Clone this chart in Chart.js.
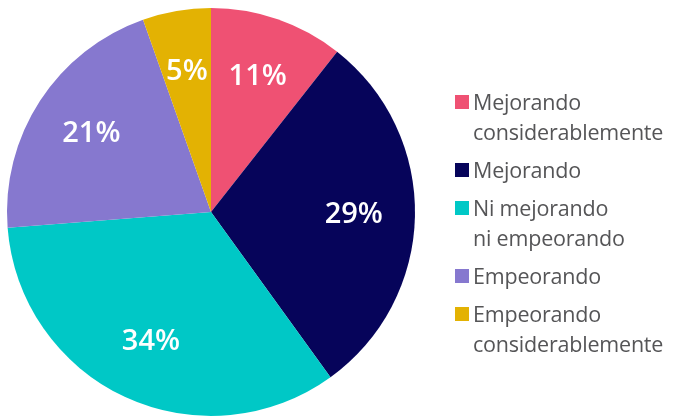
<!DOCTYPE html>
<html>
<head>
<meta charset="utf-8">
<script src="https://cdn.jsdelivr.net/npm/chart.js@4"></script>
<style>
  body { margin: 0; background: #fff; }
  #wrap { position: relative; width: 684px; height: 418px; }
  #legend { position: absolute; left: 455px; top: 87px; font-family: "Open Sans", sans-serif; font-size: 21.5px; color: #555557; line-height: 30px; letter-spacing: -0.2px; }
  .item { position: relative; padding-left: 18px; margin-bottom: 8px; }
  .box { position: absolute; left: 0; top: 8px; width: 14px; height: 14px; }
</style>
</head>
<body>
<div id="wrap">
  <canvas id="myChart" width="684" height="418"></canvas>
  <div id="legend"></div>
</div>
<script>
const labels = [
  ["Mejorando", "considerablemente"],
  ["Mejorando"],
  ["Ni mejorando", "ni empeorando"],
  ["Empeorando"],
  ["Empeorando", "considerablemente"],
];
// slice sizes; printed labels are the rounded shares
const values = [10.6, 29.4, 33.7, 20.8, 5.4];
const percentLabels = ["11%", "29%", "34%", "21%", "5%"];
const colors = ["#ef5173", "#06045a", "#00c8c6", "#8678cf", "#e3b203"];

// legend
const legendEl = document.getElementById("legend");
labels.forEach((lines, i) => {
  const item = document.createElement("div");
  item.className = "item";
  item.innerHTML =
    `<span class="box" style="background:${colors[i]}"></span>` + lines.join("<br>");
  legendEl.appendChild(item);
});

// percent labels inside slices
const sliceLabels = {
  id: "sliceLabels",
  afterDatasetsDraw(chart) {
    const ctx = chart.ctx;
    const meta = chart.getDatasetMeta(0);
    ctx.save();
    ctx.fillStyle = "#fff";
    ctx.font = "600 29px 'Open Sans', sans-serif";
    ctx.textAlign = "center";
    ctx.textBaseline = "middle";
    meta.data.forEach((arc, i) => {
      const mid = (arc.startAngle + arc.endAngle) / 2;
      const r = arc.outerRadius * 0.7;
      ctx.fillText(percentLabels[i], arc.x + Math.cos(mid) * r, arc.y + Math.sin(mid) * r);
    });
    ctx.restore();
  },
};

new Chart(document.getElementById("myChart"), {
  type: "pie",
  data: {
    labels: labels.map((l) => l.join(" ")),
    datasets: [
      {
        data: values,
        backgroundColor: colors,
        borderWidth: 0,
      },
    ],
  },
  options: {
    responsive: false,
    animation: false,
    layout: { padding: { left: 7, right: 269, top: 8, bottom: 2 } },
    plugins: {
      legend: { display: false },
      tooltip: { enabled: false },
    },
  },
  plugins: [sliceLabels],
});
</script>
</body>
</html>
